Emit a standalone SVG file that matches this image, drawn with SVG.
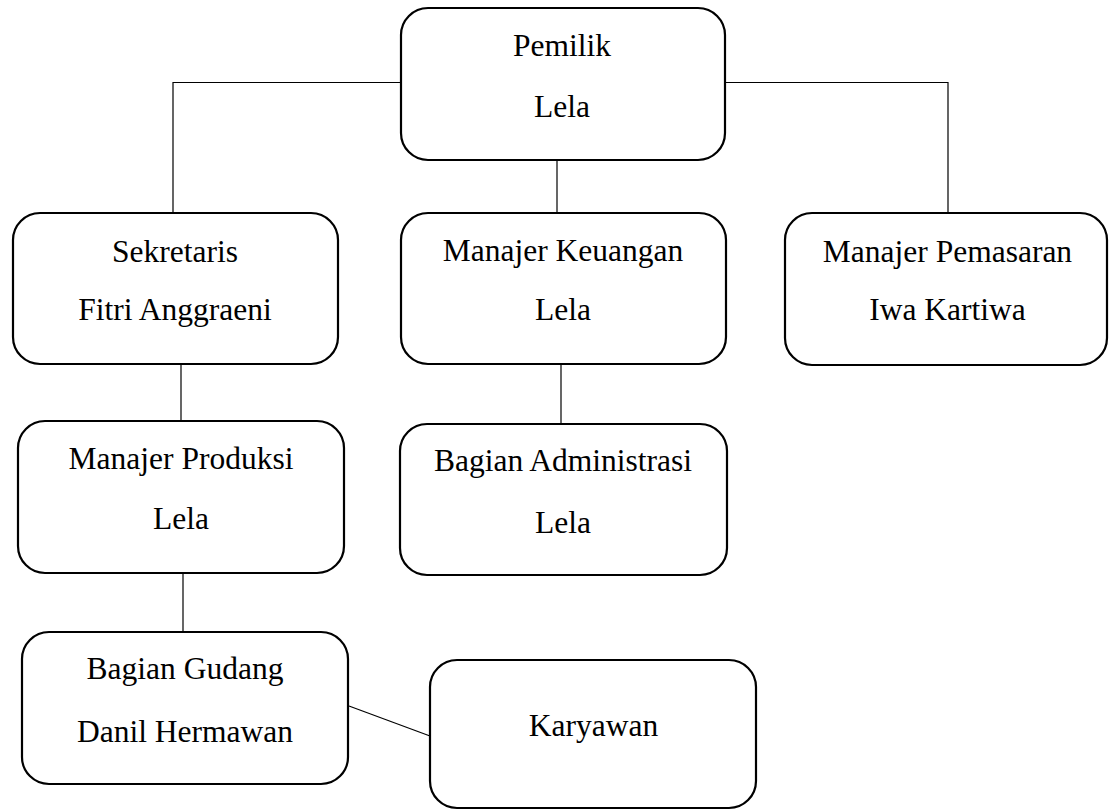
<svg xmlns="http://www.w3.org/2000/svg" width="1109" height="810" viewBox="0 0 1109 810">
<style>
.box{fill:#fff;stroke:#000;stroke-width:2.2}
.t{font-family:'Liberation Serif','Times New Roman',Times,serif;font-size:31.5px;fill:#000;text-anchor:middle}
.c{stroke:#000;stroke-width:1.2;fill:none}
</style>
<rect width="1109" height="810" fill="#fff"/>
<g id="connectors">
<polyline class="c" points="173,213 173,82.5 401,82.5"/>
<polyline class="c" points="725,82.5 948,82.5 948,213"/>
<line class="c" x1="557" y1="160" x2="557" y2="213"/>
<line class="c" x1="181" y1="364" x2="181" y2="421"/>
<line class="c" x1="561" y1="364" x2="561" y2="424"/>
<line class="c" x1="183" y1="573" x2="183" y2="632"/>
<line class="c" x1="349" y1="706" x2="430" y2="736"/>
</g>
<g id="pemilik">
<rect class="box" x="401" y="8" width="324" height="152" rx="27"/>
<text class="t" x="562" y="56">Pemilik</text>
<text class="t" x="562" y="117">Lela</text>
</g>
<g id="sekretaris">
<rect class="box" x="13" y="213" width="325" height="151" rx="27"/>
<text class="t" x="175" y="262">Sekretaris</text>
<text class="t" x="175" y="320">Fitri Anggraeni</text>
</g>
<g id="manajer-keuangan">
<rect class="box" x="401" y="213" width="325" height="151" rx="27"/>
<text class="t" x="563" y="261">Manajer Keuangan</text>
<text class="t" x="563" y="320">Lela</text>
</g>
<g id="manajer-pemasaran">
<rect class="box" x="785" y="213" width="322" height="152" rx="27"/>
<text class="t" x="947.5" y="262">Manajer Pemasaran</text>
<text class="t" x="947.5" y="320">Iwa Kartiwa</text>
</g>
<g id="manajer-produksi">
<rect class="box" x="18" y="421" width="326" height="152" rx="27"/>
<text class="t" x="181" y="469">Manajer Produksi</text>
<text class="t" x="181" y="529">Lela</text>
</g>
<g id="bagian-administrasi">
<rect class="box" x="400" y="424" width="327" height="151" rx="27"/>
<text class="t" x="563" y="471">Bagian Administrasi</text>
<text class="t" x="563" y="533">Lela</text>
</g>
<g id="bagian-gudang">
<rect class="box" x="22" y="632" width="326" height="152" rx="27"/>
<text class="t" x="185" y="679">Bagian Gudang</text>
<text class="t" x="185" y="742">Danil Hermawan</text>
</g>
<g id="karyawan">
<rect class="box" x="430" y="660" width="326" height="148" rx="27"/>
<text class="t" x="593.5" y="736">Karyawan</text>
</g>
</svg>
